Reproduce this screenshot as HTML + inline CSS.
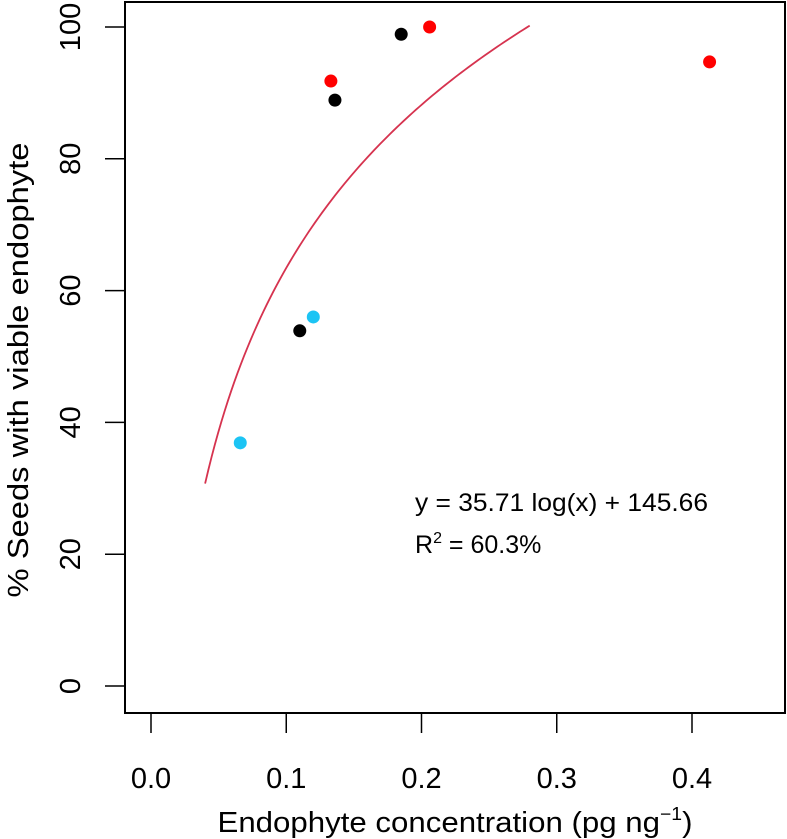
<!DOCTYPE html>
<html><head><meta charset="utf-8"><style>
body{margin:0;background:#fff}
svg{display:block;font-family:"Liberation Sans",sans-serif}
</style></head><body>
<svg id="chart" width="787" height="839" viewBox="0 0 787 839">
<rect x="125" y="2" width="660" height="711" fill="none" stroke="#000" stroke-width="2"/>
<g id="xaxis"></g>
<g id="yaxis"></g>
<text x="455" y="832" font-size="29" text-anchor="middle" textLength="475" lengthAdjust="spacingAndGlyphs">Endophyte concentration (pg ng<tspan font-size="18" dy="-12">−1</tspan><tspan dy="12">)</tspan></text>
<text transform="translate(28,370) rotate(-90)" font-size="29" text-anchor="middle" textLength="455" lengthAdjust="spacingAndGlyphs">% Seeds with viable endophyte</text>
<path id="fit" fill="none" stroke="#d6334f" stroke-width="1.8"/>
<g id="pts"></g>
<text x="415" y="511" font-size="25" textLength="293" lengthAdjust="spacingAndGlyphs">y = 35.71 log(x) + 145.66</text>
<text x="415" y="553" font-size="25">R<tspan font-size="16" dy="-10">2</tspan><tspan dy="10"> = 60.3%</tspan></text>
</svg>
<script>
const xVals=[0.185,0.206,0.133,0.136,0.413,0.110,0.120,0.066];
const yVals=[98.9,100,91.8,88.9,94.7,53.9,56.0,36.9];
const groups=["black","red","red","black","red","black","blue","blue"];
const xTicks=[0.0,0.1,0.2,0.3,0.4];
const yTicks=[0,20,40,60,80,100];
const fitA=35.71, fitB=145.66, fitFrom=0.04, fitTo=0.28;
const colors={black:"#000",red:"#ff0000",blue:"#1cc4f4"};
const sx=v=>151+v*1352.5;
const sy=v=>686-v*6.59;
const NS="http://www.w3.org/2000/svg";
const xa=document.getElementById('xaxis'),ya=document.getElementById('yaxis');
xTicks.forEach(t=>{
 const l=document.createElementNS(NS,'line');
 l.setAttribute('x1',sx(t));l.setAttribute('x2',sx(t));l.setAttribute('y1',713);l.setAttribute('y2',733);
 l.setAttribute('stroke','#000');l.setAttribute('stroke-width','1.5');
 
 
 xa.appendChild(l);
 const s=document.createElementNS(NS,'text');
 s.setAttribute('x',sx(t));s.setAttribute('y',788);s.setAttribute('font-size','29');s.setAttribute('text-anchor','middle');
 s.textContent=t.toFixed(1);
 
 
 xa.appendChild(s);
});
yTicks.forEach(t=>{
 const l=document.createElementNS(NS,'line');
 l.setAttribute('x1',105);l.setAttribute('x2',125);l.setAttribute('y1',sy(t));l.setAttribute('y2',sy(t));
 l.setAttribute('stroke','#000');l.setAttribute('stroke-width','1.5');
 
 
 ya.appendChild(l);
 const s=document.createElementNS(NS,'text');
 s.setAttribute('transform',`translate(80,${sy(t)}) rotate(-90)`);s.setAttribute('font-size','29');s.setAttribute('text-anchor','middle');
 s.textContent=t;
 
 
 ya.appendChild(s);
});
let d="";
for(let i=0;i<=100;i++){const x=fitFrom+(fitTo-fitFrom)*i/100;const y=fitA*Math.log(x)+fitB;d+=(i?"L":"M")+sx(x).toFixed(2)+","+sy(y).toFixed(2);}
document.getElementById('fit').setAttribute('d',d);
const pg=document.getElementById('pts');
xVals.forEach((x,i)=>{
 const c=document.createElementNS(NS,'circle');
 c.setAttribute('cx',sx(x));c.setAttribute('cy',sy(yVals[i]));c.setAttribute('r',6.5);c.setAttribute('fill',colors[groups[i]]);
 
 
 pg.appendChild(c);
});
</script>
</body></html>
